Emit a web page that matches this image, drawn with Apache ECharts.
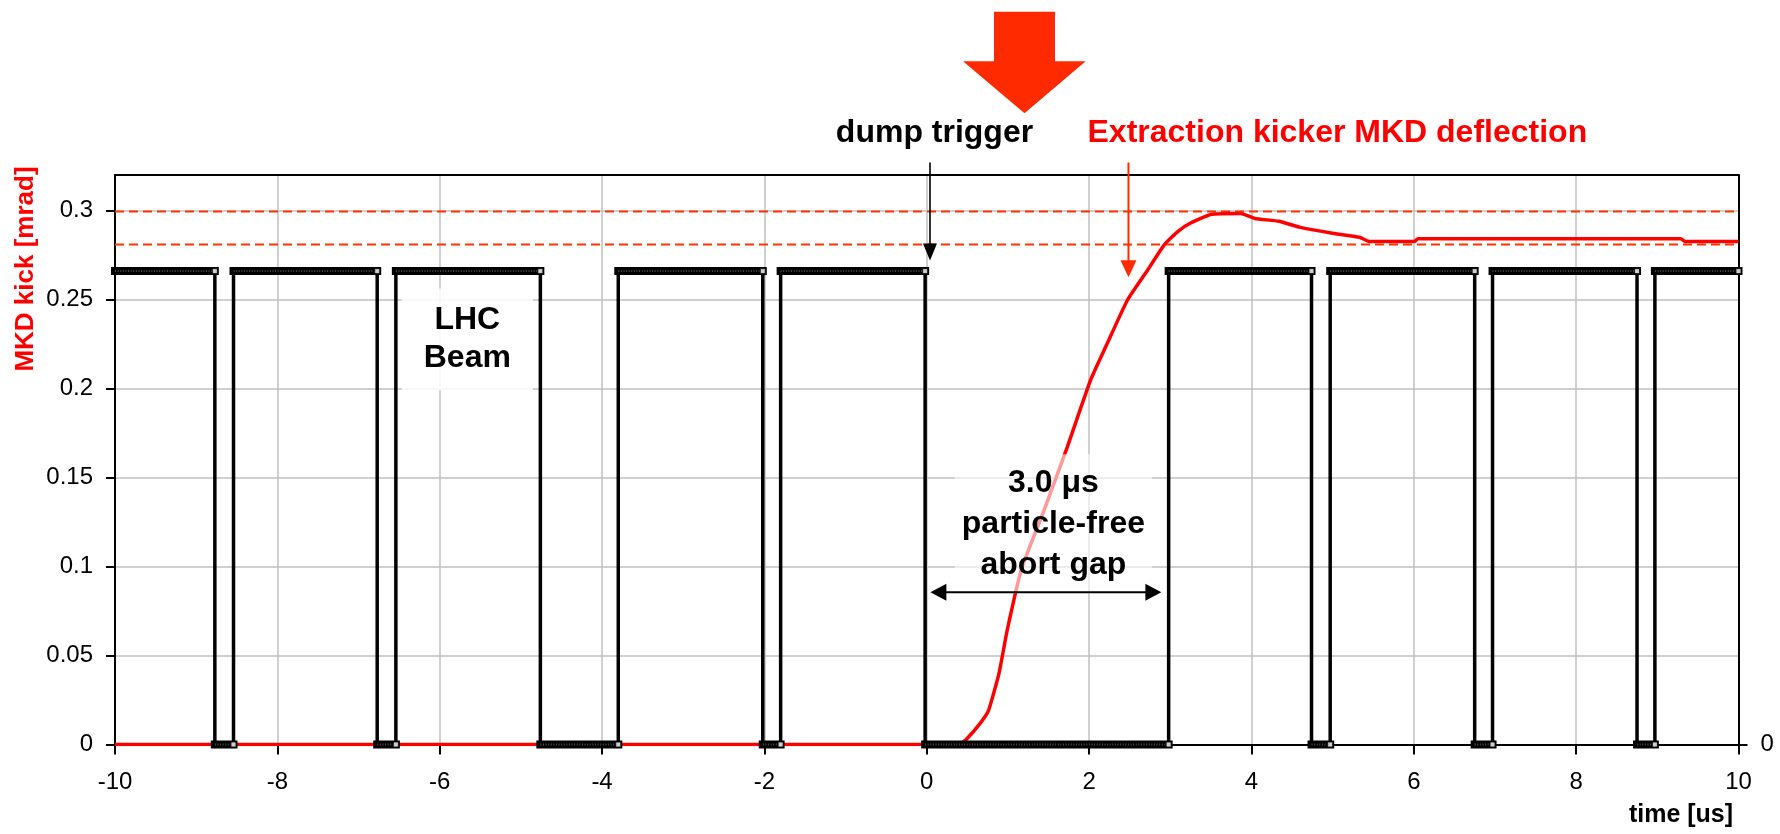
<!DOCTYPE html>
<html><head><meta charset="utf-8">
<script src="https://cdn.jsdelivr.net/npm/echarts@6/dist/echarts.min.js"></script>
<style>html,body{margin:0;padding:0;background:#fff}#c{width:1780px;height:834px}</style>
</head><body><div id="c"></div>
<script>
// ---- data ----
const xTicks = [-10, -8, -6, -4, -2, 0, 2, 4, 6, 8, 10];
const yTicks = [0, 0.05, 0.1, 0.15, 0.2, 0.25, 0.3];
const beamLevel = 0.266;
const trainStart = [-10, -8.54, -6.54, -3.80, -1.80, 2.98, 4.97, 6.97, 8.97];
const trainEnd   = [-8.77, -6.77, -4.76, -2.02, -0.02, 4.74, 6.75, 8.75, 10];
const kickT = [-10, 0.40, 0.50, 0.66, 0.76, 0.89, 0.99, 1.17, 1.44, 1.73, 2.02, 2.22, 2.47, 2.72, 2.93, 3.10, 3.25, 3.50, 3.87, 4.04, 4.34, 4.59, 4.98, 5.33, 5.45, 6.01, 6.05, 9.29, 9.34, 10];
const kickY = [0, 0, 0.0035, 0.012, 0.019, 0.040, 0.064, 0.099, 0.131, 0.167, 0.205, 0.225, 0.2495, 0.2665, 0.281, 0.2885, 0.293, 0.2978, 0.2983, 0.2956, 0.294, 0.2907, 0.2874, 0.285, 0.2827, 0.2827, 0.2842, 0.2842, 0.2827, 0.2827];
const limitLevels = [0.2995, 0.281];

const FONT = "'Liberation Sans', Arial, sans-serif";
const xMin = xTicks[0], xMax = xTicks[xTicks.length - 1];

// build beam square wave, horizontal bands and end markers
const H = beamLevel;
const wave = [], bandData = [], ends = [];
for (let i = 0; i < trainStart.length; i++) {
  const s = trainStart[i], e = trainEnd[i];
  if (i > 0) wave.push([s, 0]);
  wave.push([s, H], [e, H]);
  bandData.push([s, H], [e, H], [e, '-']);
  ends.push([e, H]);
  if (i < trainStart.length - 1) {
    const ns = trainStart[i + 1];
    wave.push([e, 0]);
    bandData.push([e, 0], [ns, 0], [ns, '-']);
    ends.push([ns, 0]);
  }
}
const kickData = kickT.map((t, i) => [t, kickY[i]]);

const series = [];
limitLevels.forEach(v => series.push({
  type: 'line', data: [[xMin, v], [xMax, v]], symbol: 'none', z: 2, silent: true,
  lineStyle: { color: '#ff3300', width: 2, type: [9, 5] }
}));
series.push({
  type: 'line', data: kickData, symbol: 'none', z: 3, smooth: 0.15,
  lineStyle: { color: '#ff0000', width: 3.5 }
});
series.push({
  type: 'line', data: wave, symbol: 'none', z: 4,
  lineStyle: { color: '#000', width: 3.5 }
});
series.push({
  type: 'line', data: bandData, symbol: 'none', z: 5, clip: false, connectNulls: false,
  lineStyle: { color: '#000', width: 8, cap: 'square' }
});
series.push({
  type: 'line', data: bandData, symbol: 'none', z: 6, clip: false, connectNulls: false,
  lineStyle: { color: '#4a4a4a', width: 2, type: [1, 1.6], cap: 'butt' }
});
series.push({
  type: 'scatter', data: ends, symbol: 'rect', symbolSize: 5, z: 7, clip: false,
  itemStyle: { color: '#fff', borderColor: '#000', borderWidth: 1 }
});

const chart = echarts.init(document.getElementById('c'), null, { renderer: 'canvas' });
chart.setOption({
  animation: false,
  backgroundColor: '#fff',
  grid: { left: 115, right: 41.5, top: 175, bottom: 89.5, containLabel: false },
  xAxis: [{
    type: 'value', min: xMin, max: xMax, interval: 2, position: 'bottom',
    axisLine: { onZero: false, lineStyle: { color: '#000', width: 2 } },
    axisTick: { length: 10, lineStyle: { color: '#000', width: 2 } },
    axisLabel: { fontSize: 24, color: '#000', fontFamily: FONT, margin: 26 },
    splitLine: { show: true, lineStyle: { color: '#c0c0c0', width: 1.5 } }
  }, {
    type: 'value', min: xMin, max: xMax, position: 'top',
    axisLine: { show: true, onZero: false, lineStyle: { color: '#000', width: 2 } },
    axisTick: { show: false }, axisLabel: { show: false }, splitLine: { show: false }
  }],
  yAxis: [{
    type: 'value', min: 0, max: 0.32, interval: 0.05, position: 'left',
    axisLine: { show: true, onZero: false, lineStyle: { color: '#000', width: 2 } },
    axisTick: { show: true, length: 9, customValues: yTicks, lineStyle: { color: '#000', width: 2 } },
    axisLabel: { customValues: yTicks, fontSize: 24, color: '#000', fontFamily: FONT, margin: 22 },
    splitLine: { show: true, lineStyle: { color: '#c0c0c0', width: 1.5 } }
  }, {
    type: 'value', min: 0, max: 0.32, position: 'right',
    axisLine: { show: true, onZero: false, lineStyle: { color: '#000', width: 2 } },
    axisTick: { show: true, length: 9, customValues: [0], lineStyle: { color: '#000', width: 2 } },
    axisLabel: { customValues: [0], fontSize: 24, color: '#000', fontFamily: FONT, margin: 22 },
    splitLine: { show: false }
  }],
  series: series
});

// ---- annotations ----
const P = (x, y) => chart.convertToPixel({ gridIndex: 0 }, [x, y]);
const els = [];
function vArrow(x, y0, y1, color, lw, hw, hl) {
  const a = P(x, y0), b = P(x, y1);
  els.push({ type: 'line', z: 100, shape: { x1: a[0], y1: a[1], x2: b[0], y2: b[1] - hl + 1 }, style: { stroke: color, lineWidth: lw } });
  els.push({ type: 'polygon', z: 100, shape: { points: [[b[0] - hw / 2, b[1] - hl], [b[0] + hw / 2, b[1] - hl], [b[0], b[1]]] }, style: { fill: color } });
}
vArrow(0.04, 0.327, 0.2719, '#000', 1.6, 14, 17);
vArrow(2.485, 0.327, 0.2626, '#ff2a00', 2, 16, 17);

// double arrow abort gap
(function () {
  const a = P(0.045, 0.0856), b = P(2.89, 0.0856);
  const hl = 16, hw = 17;
  els.push({ type: 'line', z: 100, shape: { x1: a[0] + hl - 1, y1: a[1], x2: b[0] - hl + 1, y2: b[1] }, style: { stroke: '#000', lineWidth: 2 } });
  els.push({ type: 'polygon', z: 100, shape: { points: [[a[0], a[1]], [a[0] + hl, a[1] - hw / 2], [a[0] + hl, a[1] + hw / 2]] }, style: { fill: '#000' } });
  els.push({ type: 'polygon', z: 100, shape: { points: [[b[0], b[1]], [b[0] - hl, b[1] - hw / 2], [b[0] - hl, b[1] + hw / 2]] }, style: { fill: '#000' } });
})();

// text boxes in plot
(function () {
  const c = P(1.56, 0.124);
  els.push({ type: 'text', z: 99, style: {
    text: '3.0 \u03bcs\nparticle-free\nabort gap', x: c[0], y: c[1], align: 'center', verticalAlign: 'middle',
    font: 'bold 32px ' + FONT, lineHeight: 41, fill: '#000',
    backgroundColor: 'rgba(255,255,255,0.6)', padding: [8, 7]
  } });
  const l = P(-5.66, 0.2276);
  els.push({ type: 'text', z: 99, style: {
    text: 'LHC\nBeam', x: l[0], y: l[1], align: 'center', verticalAlign: 'middle',
    font: 'bold 32px ' + FONT, lineHeight: 38, fill: '#000',
    backgroundColor: 'rgba(255,255,255,0.85)', padding: [13, 22]
  } });
})();

// big arrow at top
els.push({ type: 'polygon', z: 100, shape: { points: [[994, 11.7], [1055, 11.7], [1055, 61.3], [1085.7, 61.3], [1024.5, 113.3], [963, 61.3], [994, 61.3]] }, style: { fill: '#ff2a00' } });

els.push({ type: 'text', z: 100, style: { text: 'dump trigger', x: 934.5, y: 133, align: 'center', verticalAlign: 'middle', font: 'bold 32px ' + FONT, fill: '#000' } });
els.push({ type: 'text', z: 100, style: { text: 'Extraction kicker MKD deflection', x: 1087.5, y: 133, align: 'left', verticalAlign: 'middle', font: 'bold 32px ' + FONT, fill: '#ff0000' } });
els.push({ type: 'text', z: 100, style: { text: 'time [us]', x: 1681, y: 815, align: 'center', verticalAlign: 'middle', font: 'bold 25px ' + FONT, fill: '#000' } });
els.push({ type: 'text', z: 100, rotation: Math.PI / 2, x: 26, y: 269, style: { text: 'MKD kick [mrad]', x: 0, y: 0, align: 'center', verticalAlign: 'middle', font: 'bold 26px ' + FONT, fill: '#ff0000' } });

chart.setOption({ graphic: { elements: els } });
</script></body></html>
